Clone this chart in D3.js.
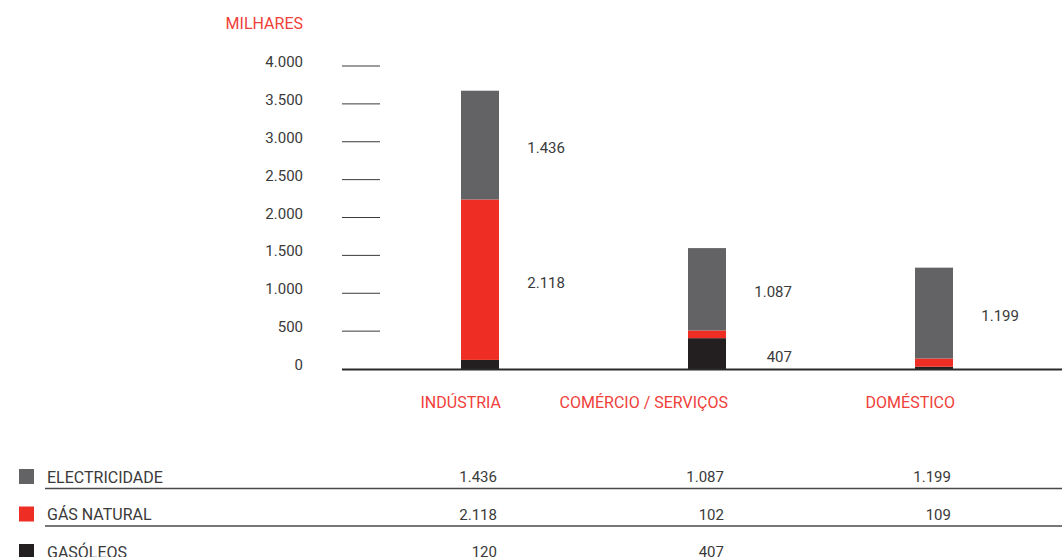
<!DOCTYPE html>
<html><head><meta charset="utf-8">
<script src="https://cdn.jsdelivr.net/npm/d3@7"></script>
<style>body{margin:0;background:#fff}svg{display:block}text{font-family:Roboto,"Noto Sans",sans-serif}</style>
</head><body><svg id="c" width="1062" height="557"></svg>
<script>
const categories = ["INDÚSTRIA", "COMÉRCIO / SERVIÇOS", "DOMÉSTICO"];
const seriesNames = ["ELECTRICIDADE", "GÁS NATURAL", "GASÓLEOS"];
const electricidade = [1436, 1087, 1199];
const gasNatural = [2118, 102, 109];
const gasoleos = [120, 407, 30];
const gasoleosInTable = [true, true, false];
const yTicks = [0, 500, 1000, 1500, 2000, 2500, 3000, 3500, 4000];
const unitLabel = "MILHARES";

const colors = {"ELECTRICIDADE":"#636365","GÁS NATURAL":"#ee2e24","GASÓLEOS":"#231f20"};
const fmt = v => d3.format(",")(v).replace(/,/g, ".");
const svg = d3.select("#c");
const NUM = 15, LAB = 16;

const y = d3.scaleLinear().domain([0, 4000]).range([369, 66]);
const x = d3.scaleBand().domain(categories).range([347.5, 1066.5]).paddingInner(0.8326).paddingOuter(0.5);

// y axis tick marks
const ax = svg.append("g");
yTicks.forEach(t => {
  if (t > 0) ax.append("line").attr("x1", 342).attr("x2", 380).attr("y1", y(t)).attr("y2", y(t))
    .attr("stroke", "#3a3a3a").attr("stroke-width", 1);
  ax.append("text").attr("x", 303).attr("y", y(t) - 4).attr("text-anchor", "end")
    .attr("dominant-baseline", "central").attr("font-size", NUM).attr("fill", "#3a3a3a").text(fmt(t));
});
svg.append("text").attr("x", 303).attr("y", 23).attr("text-anchor", "end").attr("dominant-baseline", "central")
  .attr("font-size", LAB).attr("fill", "#f0403a").text(unitLabel);

const rows = categories.map((c, i) => ({cat: c, vals: [["GASÓLEOS", gasoleos[i]], ["GÁS NATURAL", gasNatural[i]], ["ELECTRICIDADE", electricidade[i]]]}));
rows.forEach(r => {
  let acc = 0;
  const bx = x(r.cat), bw = x.bandwidth();
  r.vals.forEach(([name, v]) => {
    svg.append("rect").attr("x", bx).attr("width", bw).attr("y", y(acc + v)).attr("height", y(acc) - y(acc + v))
      .attr("fill", colors[name]);
    if (v > 300) {
      svg.append("text").attr("x", bx + bw + 66).attr("y", (y(acc) + y(acc + v)) / 2 + 3).attr("text-anchor", "end")
        .attr("dominant-baseline", "central").attr("font-size", NUM).attr("fill", "#3a3a3a").text(fmt(v));
    }
    acc += v;
  });
  svg.append("text").attr("x", bx + bw + 2).attr("y", 402).attr("text-anchor", "end").attr("dominant-baseline", "central")
    .attr("font-size", LAB).attr("fill", "#f0403a").text(r.cat);
});
// baseline
svg.append("line").attr("x1", 342).attr("x2", 1062).attr("y1", y(0) + 0.5).attr("y2", y(0) + 0.5)
  .attr("stroke", "#2a2a2a").attr("stroke-width", 2);

// table
const tableData = [
  {name: "ELECTRICIDADE", vals: electricidade, show: [true, true, true]},
  {name: "GÁS NATURAL", vals: gasNatural, show: [true, true, true]},
  {name: "GASÓLEOS", vals: gasoleos, show: gasoleosInTable}
];
tableData.forEach((row, i) => {
  const cy = 477 + i * 37.5;
  svg.append("rect").attr("x", 19).attr("y", cy - 8).attr("width", 15).attr("height", 15).attr("fill", colors[row.name]);
  svg.append("text").attr("x", 47).attr("y", cy).attr("dominant-baseline", "central").attr("font-size", LAB)
    .attr("fill", "#3a3a3a").text(row.name);
  row.vals.forEach((v, j) => {
    if (!row.show[j]) return;
    svg.append("text").attr("x", x(categories[j]) + x.bandwidth() - 2).attr("y", cy).attr("text-anchor", "end")
      .attr("dominant-baseline", "central").attr("font-size", NUM).attr("fill", "#3a3a3a").text(fmt(v));
  });
  if (i < 2) svg.append("line").attr("x1", 45).attr("x2", 1062).attr("y1", cy + 11.5).attr("y2", cy + 11.5)
    .attr("stroke", "#4a4a4a").attr("stroke-width", 1.5);
});
</script></body></html>
